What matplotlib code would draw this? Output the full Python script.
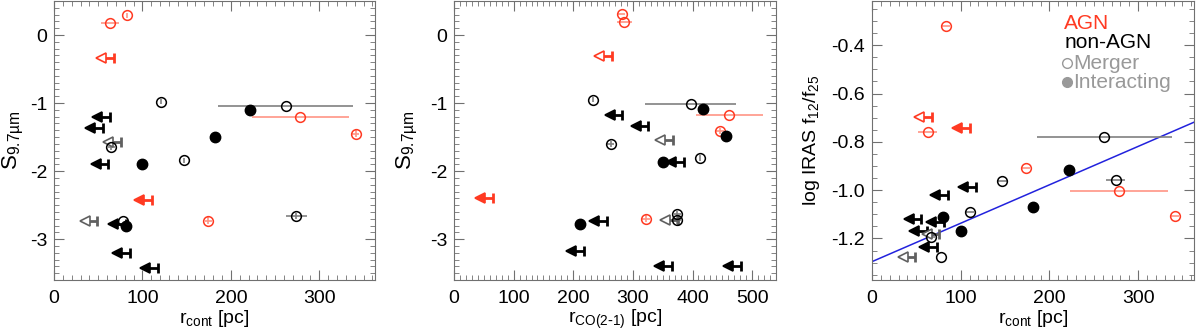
import matplotlib
matplotlib.use('Agg')
import numpy as np
import matplotlib.pyplot as plt
from matplotlib.ticker import MultipleLocator, FormatStrFormatter

plt.rcParams['font.family'] = ['Liberation Sans', 'DejaVu Sans']
plt.rcParams['mathtext.default'] = 'regular'
plt.rcParams['axes.unicode_minus'] = False

# kinds: A = AGN, N = non-AGN; m = merger (open), i = interacting (filled); L = upper limit on x
# panel 1: S9.7 vs r_cont
p1_x = [63, 83, 68, 63, 55, 76, 65, 61.5, 100, 111, 49, 81, 78, 81.4, 86, 117.5,
        121, 147, 182, 221.5, 262, 278.7, 341, 174.4, 274]
p1_y = [0.17, 0.29, -0.34, -1.20, -1.36, -1.57, -1.64, -1.90, -1.90, -2.43, -2.74, -2.77, -2.73, -2.81,
        -3.21, -3.43, -0.98, -1.84, -1.50, -1.10, -1.05, -1.20, -1.45, -2.73, -2.66]
p1_kind = ['Am', 'Am', 'AmL', 'NiL', 'NiL', 'NmL', 'Nm', 'NiL', 'Ni', 'AiL', 'NmL', 'NiL', 'Nm', 'Ni',
           'NiL', 'NiL', 'Nm', 'Nm', 'Ni', 'Ni', 'Nm', 'Am', 'Am', 'Am', 'Nm']
p1_xerr = [10, 0, 0, 0, 0, 0, 4, 0, 0, 0, 0, 0, 0, 0, 0, 0, 0, 0, 0, 0, 76, 55, 4, 4, 12]
p1_yerr = [0, 0.04, 0, 0, 0, 0, 0.05, 0, 0, 0, 0, 0, 0, 0, 0, 0, 0.04, 0.04, 0, 0, 0, 0, 0.05, 0.05, 0.05]

# panel 2: S9.7 vs r_CO(2-1)
p2_x = [66, 232.7, 211.4, 256, 218.6, 322, 375, 374.7, 374.7, 366, 481.5, 282.4, 326, 367, 263,
        350, 386, 412.8, 397, 418, 462, 446, 456, 281, 285.7, 264.6]
p2_y = [-2.40, -0.95, -2.77, -2.74, -3.18, -2.70, -2.72, -2.63, -2.72, -3.40, -3.40, -1.17, -1.33,
        -1.54, -1.60, -1.87, -1.87, -1.81, -1.02, -1.08, -1.17, -1.41, -1.48, 0.31, 0.19, -0.31]
p2_kind = ['AiL', 'Nm', 'Ni', 'NiL', 'NiL', 'Am', 'NmL', 'Nm', 'Nm', 'NiL', 'NiL', 'NiL', 'NiL',
           'NmL', 'Nm', 'Ni', 'NiL', 'Nm', 'Nm', 'Ni', 'Am', 'Am', 'Ni', 'Am', 'Am', 'AmL']
p2_xerr = [0, 0, 0, 0, 0, 6, 0, 6, 6, 0, 0, 0, 0, 0, 6, 0, 0, 0, 76, 0, 56, 6, 0, 6, 12, 0]
p2_yerr = [0, 0.04, 0, 0, 0, 0.05, 0, 0.05, 0.05, 0, 0, 0, 0, 0, 0.05, 0, 0, 0.04, 0, 0, 0, 0.05, 0, 0, 0, 0]

# panel 3: log IRAS f12/f25 vs r_cont
p3_x = [83, 67.3, 62.8, 110.5, 117.2, 85.7, 55.6, 81, 73.3, 62, 79.7, 100.3, 110, 76, 66.5, 78, 49,
        173.6, 261.9, 222, 274.7, 278.5, 181.9, 341.6, 147]
p3_y = [-0.32, -0.696, -0.76, -0.744, -0.987, -1.021, -1.118, -1.131, -1.237, -1.169, -1.111, -1.169,
        -1.09, -1.18, -1.196, -1.276, -1.276, -0.909, -0.781, -0.918, -0.96, -1.004, -1.07, -1.108, -0.964]
p3_kind = ['Am', 'AmL', 'Am', 'AiL', 'NiL', 'NiL', 'NiL', 'NiL', 'NiL', 'NiL', 'Ni', 'Ni', 'Nm', 'NmL',
           'Nm', 'Nm', 'NmL', 'Am', 'Nm', 'Ni', 'Nm', 'Am', 'Ni', 'Am', 'Nm']
p3_xerr = [5, 0, 11, 0, 0, 0, 0, 0, 0, 0, 0, 0, 5, 0, 5, 0, 0, 5, 76, 0, 11, 55, 0, 5, 5]
p3_yerr = [0] * 25

# fitted relation in panel 3
fit_icpt = -1.296
fit_slope = 0.00159

RED = '#ff3a22'
RED_ERR = '#ff9585'
GREY = '#808080'
FRAME = '#707070'


def draw_panel(ax, xs, ys, kinds, xerrs, yerrs, dx):
    for x, y, k, xe, ye in zip(xs, ys, kinds, xerrs, yerrs):
        agn = k[0] == 'A'
        filled = k[1] == 'i'
        col = RED if agn else 'black'
        if k.endswith('L'):
            lc = col if (filled or agn) else '#606060'
            ax.plot([x - dx * 0.8, x], [y, y], color=lc, lw=2, solid_capstyle='butt', zorder=3)
            ax.plot(x, y, marker='|', ms=7, mew=2, color=lc, zorder=3)
            ax.plot(x - dx * 0.8, y, marker='<', ms=6.5, mfc=lc if filled else 'white',
                    mec=lc, mew=1.2, zorder=4)
        else:
            if xe or ye:
                ax.errorbar(x, y, xerr=xe if xe else None, yerr=ye if ye else None, fmt='none',
                            ecolor=RED_ERR if agn else GREY, elinewidth=1.2, capsize=0, zorder=2)
            if filled:
                ax.plot(x, y, 'o', ms=7.5, mfc=col, mec=col, zorder=5)
            else:
                ax.plot(x, y, 'o', ms=7, mfc='none', mec=col, mew=1.1, zorder=5)


def style(ax, xmax, ylim, ymaj, ymin, yfmt):
    ax.set_xlim(0, xmax)
    ax.set_ylim(*ylim)
    ax.xaxis.set_major_locator(MultipleLocator(100))
    ax.xaxis.set_minor_locator(MultipleLocator(10))
    ax.yaxis.set_major_locator(MultipleLocator(ymaj))
    ax.yaxis.set_minor_locator(MultipleLocator(ymin))
    ax.yaxis.set_major_formatter(FormatStrFormatter(yfmt))
    ax.tick_params(which='both', direction='in', top=True, right=True, color=FRAME, labelsize=14)
    ax.tick_params(which='major', length=7, pad=7)
    ax.tick_params(which='minor', length=3.5)
    ax.tick_params(axis='y', pad=5)
    for s in ax.spines.values():
        s.set_color(FRAME)


fig = plt.figure(figsize=(12, 3.34), dpi=100)
bot = 54 / 334
hgt = 279 / 334
ax1 = fig.add_axes([54 / 1200, bot, 321 / 1200, hgt])
ax2 = fig.add_axes([454 / 1200, bot, 322 / 1200, hgt])
ax3 = fig.add_axes([872 / 1200, bot, 322 / 1200, hgt])

draw_panel(ax1, p1_x, p1_y, p1_kind, p1_xerr, p1_yerr, 18)
style(ax1, 363, (-3.6, 0.5), 1, 0.1, '%d')
ax1.set_xlabel('r$_{cont}$ [pc]', fontsize=14)
ax1.set_ylabel('S$_{9.7µm}$', fontsize=16)

draw_panel(ax2, p2_x, p2_y, p2_kind, p2_xerr, p2_yerr, 27)
style(ax2, 540, (-3.6, 0.5), 1, 0.1, '%d')
ax2.set_xlabel('r$_{CO(2\\text{-}1)}$ [pc]', fontsize=14)
ax2.set_ylabel('S$_{9.7µm}$', fontsize=16)

xx = np.array([0, 363])
ax3.plot(xx, fit_icpt + fit_slope * xx, color='#2222dd', lw=1.1, zorder=1)
draw_panel(ax3, p3_x, p3_y, p3_kind, p3_xerr, p3_yerr, 18)
style(ax3, 363, (-1.372, -0.217), 0.2, 0.05, '%.1f')
ax3.set_xlabel('r$_{cont}$ [pc]', fontsize=14)
ax3.set_ylabel('log IRAS f$_{12}$/f$_{25}$', fontsize=14)

for ax, lx in [(ax1, -0.088), (ax2, -0.105), (ax3, -0.155)]:
    ax.yaxis.set_label_coords(lx, 0.5)
    ax.xaxis.set_label_coords(0.5, -0.1)

# legend written as text
ax3.text(0.597, 0.92, 'AGN', color=RED, fontsize=15, va='center', transform=ax3.transAxes)
ax3.text(0.597, 0.852, 'non-AGN', color='black', fontsize=15, va='center', transform=ax3.transAxes)
ax3.plot(0.607, 0.776, 'o', ms=7, mfc='none', mec='#999999', transform=ax3.transAxes, clip_on=False)
ax3.text(0.624, 0.776, 'Merger', color='#999999', fontsize=15, va='center', transform=ax3.transAxes)
ax3.plot(0.607, 0.708, 'o', ms=7, mfc='#999999', mec='#999999', transform=ax3.transAxes, clip_on=False)
ax3.text(0.624, 0.708, 'Interacting', color='#999999', fontsize=15, va='center', transform=ax3.transAxes)

plt.savefig('out.png', dpi=100)
